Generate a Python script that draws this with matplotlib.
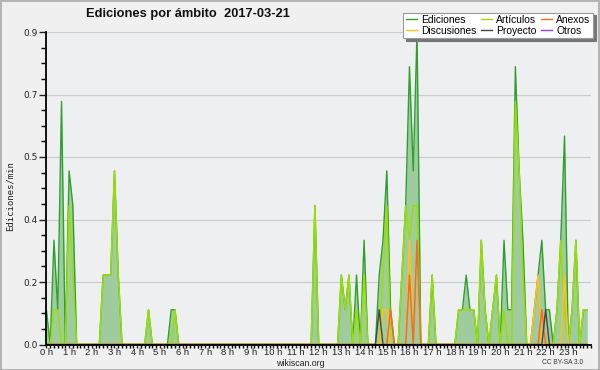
import matplotlib
matplotlib.use("Agg")
import matplotlib.pyplot as plt
from matplotlib.patches import Rectangle
from matplotlib.ticker import MultipleLocator
from matplotlib.lines import Line2D
import numpy as np

# ---- data: edits per minute, 10-minute bins over 24 h ----
hours_step = 1 / 6
ediciones = [
    0.1, 0, 0.3, 0.1, 0.7, 0, 0.5, 0.4, 0, 0, 0, 0,
    0, 0, 0, 0.2, 0.2, 0.2, 0.5, 0.2, 0, 0, 0, 0,
    0, 0, 0, 0.1, 0, 0, 0, 0, 0, 0.1, 0.1, 0,
    0, 0, 0, 0, 0, 0, 0, 0, 0, 0, 0, 0,
    0, 0, 0, 0, 0, 0, 0, 0, 0, 0, 0, 0,
    0, 0, 0, 0, 0, 0, 0, 0, 0, 0, 0, 0.4,
    0, 0, 0, 0, 0, 0, 0.2, 0.1, 0.2, 0, 0.2, 0,
    0.3, 0, 0, 0, 0.2, 0.3, 0.5, 0.1, 0, 0, 0.2, 0.4,
    0.8, 0.5, 0.9, 0, 0, 0, 0.2, 0, 0, 0, 0, 0,
    0, 0.1, 0.1, 0.2, 0.1, 0.1, 0, 0.3, 0.1, 0, 0.1, 0.2,
    0, 0.3, 0.1, 0.1, 0.8, 0.5, 0.3, 0, 0, 0.1, 0.2, 0.3,
    0.1, 0.1, 0, 0.1, 0.3, 0.6, 0, 0.1, 0.3, 0, 0.1, 0.1,
]
articulos = [
    0, 0, 0.1, 0.1, 0, 0, 0.4, 0.2, 0, 0, 0, 0,
    0, 0, 0, 0.2, 0.2, 0.2, 0.5, 0.2, 0, 0, 0, 0,
    0, 0, 0, 0.1, 0, 0, 0, 0, 0, 0, 0.1, 0,
    0, 0, 0, 0, 0, 0, 0, 0, 0, 0, 0, 0,
    0, 0, 0, 0, 0, 0, 0, 0, 0, 0, 0, 0,
    0, 0, 0, 0, 0, 0, 0, 0, 0, 0, 0, 0.4,
    0, 0, 0, 0, 0, 0, 0.2, 0.1, 0.2, 0, 0.1, 0,
    0.2, 0, 0, 0, 0, 0.2, 0.4, 0, 0, 0, 0.2, 0.4,
    0.3, 0.4, 0.4, 0, 0, 0, 0.2, 0, 0, 0, 0, 0,
    0, 0.1, 0.1, 0.1, 0.1, 0.1, 0, 0.3, 0.1, 0, 0.1, 0.2,
    0, 0.1, 0, 0, 0.7, 0.5, 0.2, 0, 0, 0, 0, 0,
    0, 0, 0, 0.1, 0.3, 0.1, 0, 0.1, 0.3, 0, 0.1, 0.1,
]
anexos = [
    0, 0, 0, 0, 0, 0, 0, 0, 0, 0, 0, 0,
    0, 0, 0, 0, 0, 0, 0, 0, 0, 0, 0, 0,
    0, 0, 0, 0, 0, 0, 0, 0, 0, 0, 0, 0,
    0, 0, 0, 0, 0, 0, 0, 0, 0, 0, 0, 0,
    0, 0, 0, 0, 0, 0, 0, 0, 0, 0, 0, 0,
    0, 0, 0, 0, 0, 0, 0, 0, 0, 0, 0, 0,
    0, 0, 0, 0, 0, 0, 0, 0, 0, 0, 0, 0,
    0, 0, 0, 0, 0, 0, 0, 0.1, 0, 0, 0, 0,
    0.2, 0, 0.3, 0, 0, 0, 0, 0, 0, 0, 0, 0,
    0, 0, 0, 0, 0, 0, 0, 0, 0, 0, 0, 0,
    0, 0, 0, 0, 0, 0, 0, 0, 0, 0, 0, 0.1,
    0, 0, 0, 0, 0, 0, 0, 0, 0, 0, 0, 0,
]
discusiones = [
    0, 0, 0, 0, 0, 0, 0, 0, 0, 0, 0, 0,
    0, 0, 0, 0, 0, 0, 0, 0, 0, 0, 0, 0,
    0, 0, 0, 0, 0, 0, 0, 0, 0, 0, 0, 0,
    0, 0, 0, 0, 0, 0, 0, 0, 0, 0, 0, 0,
    0, 0, 0, 0, 0, 0, 0, 0, 0, 0, 0, 0,
    0, 0, 0, 0, 0, 0, 0, 0, 0, 0, 0, 0,
    0, 0, 0, 0, 0, 0, 0, 0, 0, 0, 0, 0,
    0, 0, 0, 0, 0, 0.1, 0.1, 0, 0, 0, 0, 0,
    0.3, 0, 0, 0, 0, 0, 0, 0, 0, 0, 0, 0,
    0, 0, 0, 0, 0, 0, 0, 0, 0, 0, 0, 0,
    0, 0, 0, 0, 0, 0, 0, 0, 0, 0.1, 0.2, 0,
    0, 0, 0, 0, 0, 0.2, 0, 0, 0, 0, 0, 0,
]
proyecto = [
    0, 0, 0, 0, 0, 0, 0, 0, 0, 0, 0, 0,
    0, 0, 0, 0, 0, 0, 0, 0, 0, 0, 0, 0,
    0, 0, 0, 0, 0, 0, 0, 0, 0, 0, 0, 0,
    0, 0, 0, 0, 0, 0, 0, 0, 0, 0, 0, 0,
    0, 0, 0, 0, 0, 0, 0, 0, 0, 0, 0, 0,
    0, 0, 0, 0, 0, 0, 0, 0, 0, 0, 0, 0,
    0, 0, 0, 0, 0, 0, 0, 0, 0, 0, 0, 0,
    0, 0, 0, 0, 0.1, 0, 0, 0, 0, 0, 0, 0,
    0, 0, 0, 0, 0, 0, 0, 0, 0, 0, 0, 0,
    0, 0, 0, 0, 0, 0, 0, 0, 0, 0, 0, 0,
    0, 0, 0, 0, 0, 0, 0, 0, 0, 0, 0, 0,
    0.1, 0, 0, 0, 0, 0, 0, 0, 0, 0, 0, 0,
]
otros = [
    0, 0, 0, 0, 0, 0, 0, 0, 0, 0, 0, 0,
    0, 0, 0, 0, 0, 0, 0, 0, 0, 0, 0, 0,
    0, 0, 0, 0, 0, 0, 0, 0, 0, 0, 0, 0,
    0, 0, 0, 0, 0, 0, 0, 0, 0, 0, 0, 0,
    0, 0, 0, 0, 0, 0, 0, 0, 0, 0, 0, 0,
    0, 0, 0, 0, 0, 0, 0, 0, 0, 0, 0, 0,
    0, 0, 0, 0, 0, 0, 0, 0, 0, 0, 0, 0,
    0, 0, 0, 0, 0, 0, 0, 0, 0, 0, 0, 0,
    0, 0, 0, 0, 0, 0, 0, 0, 0, 0, 0, 0,
    0, 0, 0, 0, 0, 0, 0, 0, 0, 0, 0, 0,
    0, 0, 0, 0, 0, 0, 0, 0, 0, 0, 0, 0,
    0, 0, 0, 0, 0, 0, 0, 0, 0, 0, 0, 0,
]

hour_labels = ["0 h", "1 h", "2 h", "3 h", "4 h", "5 h", "6 h", "7 h", "8 h",
               "9 h", "10 h", "11 h", "12 h", "13 h", "14 h", "15 h", "16 h",
               "17 h", "18 h", "19 h", "20 h", "21 h", "22 h", "23 h"]
y_ticks = [0.0, 0.18, 0.36, 0.54, 0.72, 0.9]
y_labels = ["0.0", "0.2", "0.4", "0.5", "0.7", "0.9"]

x = np.arange(len(ediciones)) * hours_step

# ---- figure ----
W, H = 600, 370
fig = plt.figure(figsize=(6, 3.7), dpi=100)
bg = "#f0f0f0"
fig.patch.set_facecolor(bg)
fig.patches.append(Rectangle((0.5 / W, 0.5 / H), 1 - 1.5 / W, 1 - 1.5 / H,
                             transform=fig.transFigure, fill=False,
                             edgecolor="#a8a8a8", linewidth=1.2))

left, right, bottom, top = 46.4, 591.0, 344.5, 32.0
ax = fig.add_axes([left / W, 1 - bottom / H, (right - left) / W, (bottom - top) / H])
ax.set_facecolor("#eeeff1")

c_ed = "#2f9f2f"
c_art = "#99e000"
c_anx = "#ff6a1a"
c_dis = "#ffc020"
c_pro = "#444444"
c_otr = "#9a40f0"

ax.fill_between(x, 0, ediciones, color="#9fcc9f", linewidth=0, zorder=2)
ax.plot(x, ediciones, color=c_ed, lw=1.0, zorder=3)
ax.plot(x, articulos, color=c_art, lw=1.1, zorder=4)
ax.plot(x, discusiones, color=c_dis, lw=1.1, zorder=5)
ax.plot(x, anexos, color=c_anx, lw=1.1, zorder=6)
ax.plot(x, proyecto, color=c_pro, lw=1.0, zorder=7)
ax.plot(x, otros, color=c_otr, lw=1.0, zorder=1)

ax.set_xlim(0, 24)
ax.set_ylim(0, 0.9)
ax.set_yticks(y_ticks)
ax.set_yticklabels(y_labels)
ax.yaxis.set_minor_locator(MultipleLocator(0.045))
ax.set_xticks(np.arange(24))
ax.set_xticklabels(hour_labels)
ax.xaxis.set_minor_locator(MultipleLocator(hours_step))

ax.grid(axis="y", which="major", color="#cccccc", linewidth=0.9, zorder=0)
ax.set_axisbelow(True)
for s in ("top", "right"):
    ax.spines[s].set_visible(False)
for s in ("left", "bottom"):
    ax.spines[s].set_linewidth(1.3)
    ax.spines[s].set_zorder(10)

ax.tick_params(axis="y", which="major", length=5, width=1, labelsize=6.5, pad=1, colors="#222")
ax.tick_params(axis="y", which="minor", length=3.5, width=1)
ax.tick_params(axis="x", which="major", length=2.5, width=1, pad=0, colors="#222")
ax.tick_params(axis="x", which="minor", length=2.5, width=1)
for lab in ax.get_xticklabels():
    lab.set_family("Liberation Sans")
    lab.set_fontsize(6.8)

fig.text(0.3125, 1 - 13.5 / H, "Ediciones por ámbito  2017-03-21", ha="center", va="center",
         fontsize=9.3, fontweight="bold", family="Liberation Sans", color="#111")
fig.text(10 / W, 1 - 196 / H, "Ediciones/min", rotation=90, ha="center", va="center",
         fontsize=6.5, family="DejaVu Sans Mono", color="#222")
fig.text(0.5, 1 - 363 / H, "wikiscan.org", ha="center", va="center", fontsize=6.3,
         family="Liberation Sans", color="#222")
fig.text(563 / W, 1 - 363 / H, "CC BY-SA 3.0", ha="center", va="center", fontsize=4.8,
         family="Liberation Sans", color="#333")

handles = [Line2D([], [], color=c, lw=1) for c in (c_ed, c_dis, c_art, c_pro, c_anx, c_otr)]
labels = ["Ediciones", "Discusiones", "Artículos", "Proyecto", "Anexos", "Otros"]
leg = fig.legend(handles, labels, ncol=3, loc="upper right",
                 bbox_to_anchor=(593 / W, 1 - 12.5 / H),
                 prop={"family": "Liberation Sans", "size": 7.4},
                 handlelength=1.1, handletextpad=0.4, columnspacing=0.4,
                 labelspacing=0.05, borderpad=0.25, borderaxespad=0,
                 frameon=True, fancybox=False, shadow={"color": "#777", "alpha": 1},
                 framealpha=1, edgecolor="#999")
leg.get_frame().set_linewidth(0.8)
leg.set_zorder(20)

fig.savefig("out.png", dpi=100, facecolor=bg)
